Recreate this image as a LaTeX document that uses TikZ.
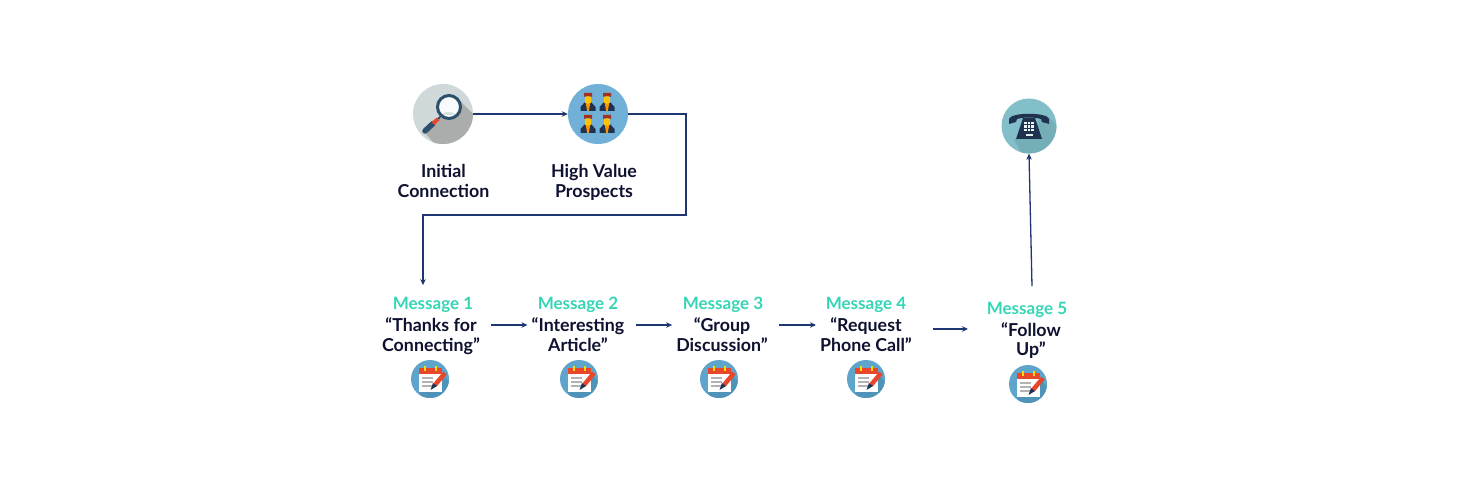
\documentclass[tikz,border=0pt]{standalone}
\usepackage{fontspec}
\setmainfont{Lato}
\usetikzlibrary{arrows.meta,calc}
\definecolor{flow}{HTML}{1E3672}
\definecolor{heading}{HTML}{35D6B6}
\definecolor{inkdark}{HTML}{0E1130}
\definecolor{navy}{HTML}{1F3350}
\definecolor{ringblue}{HTML}{2C4F6B}
\definecolor{padblue}{HTML}{5FA5CB}
\definecolor{padshade}{HTML}{4F93B9}
\definecolor{peopleblue}{HTML}{72B1D7}
\definecolor{phoneteal}{HTML}{82BFC8}
\definecolor{phoneshade}{HTML}{74AEB7}
\definecolor{lensgrey}{HTML}{CFD9DA}
\definecolor{lensshade}{HTML}{ABADAD}
\definecolor{hot}{HTML}{E8472B}
\tikzset{
  flowline/.style={draw=flow,line width=1.3pt,-{Stealth[length=6pt,width=5.5pt]}},
  heading/.style={font=\fontsize{17}{20}\selectfont\bfseries,text=heading,inner sep=0pt},
  caption/.style={font=\fontsize{17.8}{20}\selectfont\bfseries,text=inkdark,align=center,inner sep=0pt},
  disc/.style={circle,inner sep=0pt,minimum size=#1},
  pics/notepad/.style={code={
    \begin{scope}
      \clip (0,0) circle (19);
      \fill[padshade] (-11,13) -- (12,-5) -- (30,15) -- (10,30) -- (-5,30) -- cycle;
    \end{scope}
    \fill[white] (-11,-10) rectangle (12,13);
    \fill[hot] (-11,-11) rectangle (12,-5);
    \fill[yellow!80!orange] (-6,-13) rectangle (-4,-8);
    \fill[yellow!80!orange] (5,-13) rectangle (7,-8);
    \foreach \yy in {-1,3,7}
      \draw[black!30,line width=1.2pt] (-8,\yy) -- (3,\yy);
    \draw[hot,line width=4.5pt] (15,-6) -- (5,6);
    \fill[navy] (7,7) -- (3,4) -- (0.5,11) -- cycle;
  }},
  pics/lens/.style={code={
    \begin{scope}
      \clip (0,0) circle (30);
      \fill[lensshade] (-17,20) -- (-4,4) -- (0,-9) -- (15,-15) -- (45,15) -- (15,45) -- (5,45) -- cycle;
    \end{scope}
    \draw[ringblue,line width=5.5pt,line cap=round] (-18,17) -- (-10,9.5);
    \draw[hot,line width=4pt] (-10,9.5) -- (-5,5);
    \draw[ringblue,line width=2pt] (-5,5) -- (-3,3);
    \fill[white!88!lensgrey] (6,-7) circle (11);
    \fill[lensgrey!80!white] (6,-7) ++(-8,8) arc[start angle=225,end angle=315,radius=11] -- cycle;
    \draw[ringblue,line width=3pt] (6,-7) circle (11.5);
  }},
  pics/person/.style={code={
    \fill[navy] (-7.5,10) -- (-7.5,6) -- (-3,1) -- (3,1) -- (7.5,6) -- (7.5,10) -- cycle;
    \fill[orange!85!yellow] (-2.5,1) -- (2.5,1) -- (0.8,10) -- (-0.8,10) -- cycle;
    \fill[yellow!70!orange] (-3,-4) rectangle (3,2);
    \fill[yellow!55!orange] (0,-1) ellipse (3.3 and 4);
    \fill[hot!70!black] (-4,-4) -- (-4,-8) -- (4,-8) -- (4,-4) -- (1,-5) -- (-3,-4.5) -- cycle;
  }},
  pics/telephone/.style={code={
    \begin{scope}
      \clip (0,0) circle (27.5);
      \fill[phoneshade] (-15,14) -- (17,-11) -- (40,10) -- (15,40) -- (0,40) -- cycle;
    \end{scope}
    \fill[navy] (-20,-7) .. controls (-18,-14) and (18,-14) .. (20,-7)
      -- (20,-2) -- (13,-4) -- (12,-7) .. controls (5,-9) and (-5,-9) .. (-12,-7)
      -- (-13,-4) -- (-20,-2) -- cycle;
    \fill[navy] (-6,-8) -- (6,-8) -- (13,13) -- (-13,13) -- cycle;
    \foreach \kx in {-3.5,0,3.5}
      \foreach \ky in {-3,0.5,4}
        \fill[white!85!phoneteal] (\kx-1.1,\ky-1.1) rectangle (\kx+1.1,\ky+1.1);
    \fill[white!75!phoneteal] (-3.5,8) rectangle (3.5,10.5);
  }}
}
\begin{document}
\begin{tikzpicture}[x=1pt,y=-1pt]
  \useasboundingbox[fill=white] (0,0) rectangle (1460,478);

  % Top row: search and prospects
  \node[disc=60pt,fill=lensgrey] (search) at (443,114) {};
  \pic at (search.center) {lens};
  \node[disc=60pt,fill=peopleblue] (prospects) at (598,114) {};
  \foreach \px/\py in {-10/-13,9/-13,-10/9,9/9}
    \pic at ($(prospects.center)+(\px,\py)$) {person};
  \node[caption] (searchtext) at (443.5,184) {\strut Initial\\\strut Connection};
  \node[caption] (prospectstext) at (594,184) {\strut High Value\\\strut Prospects};

  % Phone call at the end of the sequence
  \node[disc=55pt,fill=phoneteal] (phone) at (1029,126) {};
  \pic at (phone.center) {telephone};

  % Message sequence
  \node[heading] (h1) at (433,305) {Message 1};
  \node[caption] (m1) at (431,338) {\strut “Thanks for\\\strut Connecting”};
  \node[disc=38pt,fill=padblue] (p1) at (430,379) {};
  \pic at (p1.center) {notepad};

  \node[heading] (h2) at (578,305) {Message 2};
  \node[caption] (m2) at (578,338) {\strut “Interesting\\\strut Article”};
  \node[disc=38pt,fill=padblue] (p2) at (579,379) {};
  \pic at (p2.center) {notepad};

  \node[heading] (h3) at (723,305) {Message 3};
  \node[caption] (m3) at (722,338) {\strut “Group\\\strut Discussion”};
  \node[disc=38pt,fill=padblue] (p3) at (719,379) {};
  \pic at (p3.center) {notepad};

  \node[heading] (h4) at (866,305) {Message 4};
  \node[caption] (m4) at (866,338) {\strut “Request\\\strut Phone Call”};
  \node[disc=38pt,fill=padblue] (p4) at (866,379) {};
  \pic at (p4.center) {notepad};

  \node[heading] (h5) at (1027,310) {Message 5};
  \node[caption] (m5) at (1031,342) {\strut “Follow\\\strut Up”};
  \node[disc=38pt,fill=padblue] (p5) at (1028,384) {};
  \pic at (p5.center) {notepad};

  % Connectors
  \draw[flowline] (search.east) -- (prospects.west);
  \draw[flowline] (prospects.east) -- (686,114) -- (686,215) -- (423,215) -- ([xshift=-10pt,yshift=12pt]h1.north);
  \draw[flowline,shorten <=11pt,shorten >=4pt] ([yshift=13pt]m1.east) -- ([yshift=13pt]m2.west);
  \draw[flowline,shorten <=11pt,shorten >=4pt] ([yshift=13pt]m2.east) -- ([yshift=13pt]m3.west);
  \draw[flowline,shorten <=11pt,shorten >=4pt] ([yshift=13pt]m3.east) -- ([yshift=13pt]m4.west);
  \draw[flowline,shorten <=21pt] ([yshift=9pt]m4.east) -- ([xshift=-33pt,yshift=13pt]m5.west);
  \draw[flowline] ([xshift=5pt,yshift=16pt]h5.north) -- (phone.south);
\end{tikzpicture}
\end{document}
